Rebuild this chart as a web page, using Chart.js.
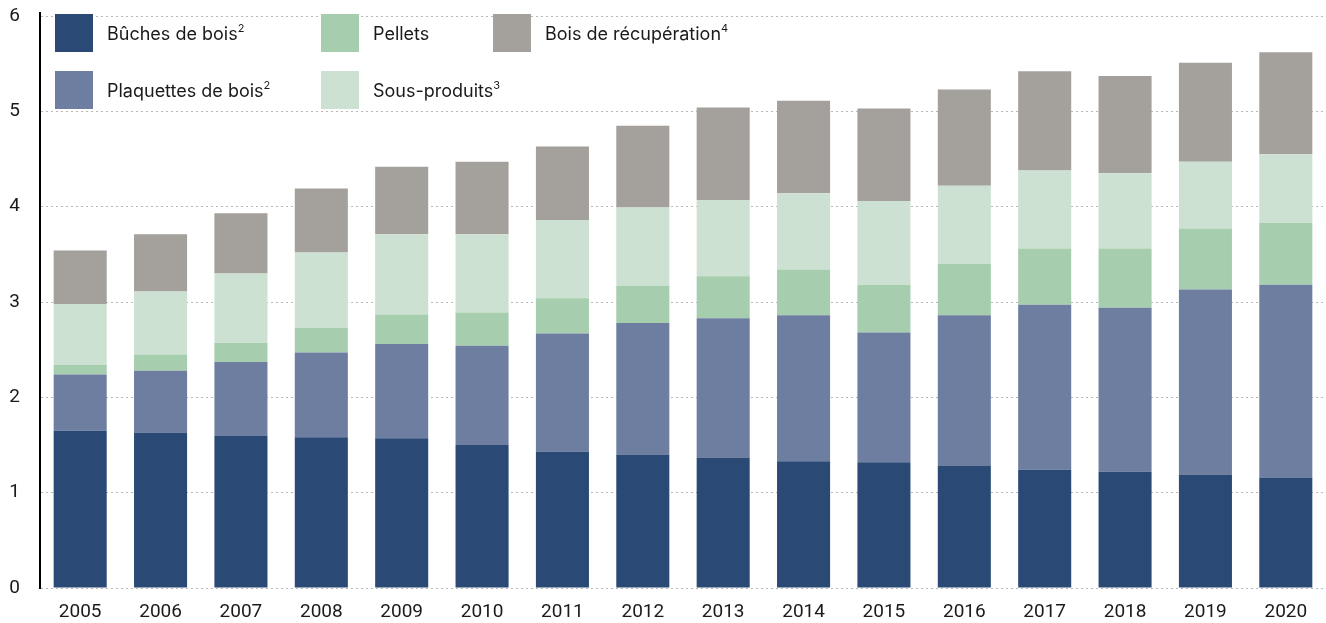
<!DOCTYPE html>
<html lang="fr">
<head>
<meta charset="utf-8">
<script src="https://cdn.jsdelivr.net/npm/chart.js@4/dist/chart.umd.min.js"></script>
<style>
  html, body { margin: 0; padding: 0; background: #fff; }
  #wrap { position: relative; width: 1326px; height: 623px; overflow: hidden; }
  canvas { display: block; }
  .legend { position: absolute; left: 0; top: 0; font-family: Inter, Roboto, "DejaVu Sans", sans-serif; font-size: 18px; color: #1a1a1a; }
  .item { position: absolute; display: flex; align-items: center; white-space: nowrap; }
  .sw { width: 38px; height: 38px; margin-right: 14px; flex: none; }
  .item sup { font-size: 11px; position: relative; top: -1px; }
</style>
</head>
<body>
<div id="wrap">
  <canvas id="c" width="1326" height="623"></canvas>
  <div class="legend" id="legend"></div>
</div>
<script>
// Years on the category axis
const years = ['2005','2006','2007','2008','2009','2010','2011','2012','2013','2014','2015','2016','2017','2018','2019','2020'];

// Stacked series, bottom to top
const buches     = [1.65,1.63,1.60,1.58,1.57,1.50,1.43,1.40,1.37,1.33,1.32,1.28,1.24,1.22,1.19,1.16];
const plaquettes = [0.59,0.65,0.77,0.89,0.99,1.04,1.24,1.38,1.46,1.53,1.36,1.58,1.73,1.72,1.94,2.02];
const pellets    = [0.10,0.17,0.20,0.26,0.31,0.35,0.37,0.39,0.44,0.48,0.50,0.54,0.59,0.62,0.64,0.65];
const sousProd   = [0.64,0.66,0.73,0.79,0.84,0.82,0.82,0.82,0.80,0.80,0.88,0.82,0.82,0.79,0.70,0.72];
const recup      = [0.56,0.60,0.63,0.67,0.71,0.76,0.77,0.86,0.97,0.97,0.97,1.01,1.04,1.02,1.04,1.07];

const yTicks = [0,1,2,3,4,5,6];

const series = [
  { label: 'Bûches de bois', sup: '2', data: buches,     color: '#2a4a75' },
  { label: 'Plaquettes de bois', sup: '2', data: plaquettes, color: '#6d7ea1' },
  { label: 'Pellets', sup: '', data: pellets,    color: '#a6cdae' },
  { label: 'Sous-produits', sup: '3', data: sousProd,   color: '#cce1d1' },
  { label: 'Bois de récupération', sup: '4', data: recup, color: '#a4a09b' }
];

// Legend laid out in columns over the plot area
const legendSlots = [
  { i: 0, x: 55,  y: 14 },
  { i: 1, x: 55,  y: 71 },
  { i: 2, x: 321, y: 14 },
  { i: 3, x: 321, y: 71 },
  { i: 4, x: 493, y: 14 }
];
const legendEl = document.getElementById('legend');
legendSlots.forEach(s => {
  const d = series[s.i];
  const el = document.createElement('div');
  el.className = 'item';
  el.style.left = s.x + 'px';
  el.style.top = s.y + 'px';
  el.innerHTML = '<span class="sw" style="background:' + d.color + '"></span><span>' + d.label +
    (d.sup ? '<sup>' + d.sup + '</sup>' : '') + '</span>';
  legendEl.appendChild(el);
});

const font = { family: 'Roboto, "DejaVu Sans", sans-serif', size: 19 };

new Chart(document.getElementById('c'), {
  type: 'bar',
  data: {
    labels: years,
    datasets: series.map(s => ({
      label: s.label,
      data: s.data,
      backgroundColor: s.color,
      borderWidth: 0,
      categoryPercentage: 1,
      barPercentage: 0.66
    }))
  },
  options: {
    responsive: false,
    animation: false,
    layout: { padding: { top: 16, right: 0, left: 0, bottom: 0 } },
    plugins: { legend: { display: false }, tooltip: { enabled: false } },
    scales: {
      x: {
        stacked: true,
        grid: { display: false },
        border: { display: false },
        afterFit: axis => { axis.height = 35; },
        ticks: { color: '#1a1a1a', font: font, padding: 5, maxRotation: 0 }
      },
      y: {
        stacked: true,
        min: 0,
        max: 6,
        afterBuildTicks: axis => { axis.ticks = yTicks.map(v => ({ value: v })); },
        afterFit: axis => { axis.width = 40; axis.paddingTop = 0; axis.paddingBottom = 0; },
        grid: { color: '#b8b8b8', lineWidth: 1, drawTicks: false },
        border: { display: true, color: '#000', width: 2, dash: [2, 3] },
        ticks: { color: '#1a1a1a', font: font, padding: 20 }
      }
    }
  },
  plugins: [{
    id: 'solidAxis',
    // border.dash applies to the grid lines; draw the axis line itself solid
    afterDraw(chart) {
      const y = chart.scales.y, ctx = chart.ctx;
      ctx.save();
      ctx.strokeStyle = '#000';
      ctx.lineWidth = 2;
      ctx.beginPath();
      ctx.moveTo(y.right, chart.chartArea.top - 4);
      ctx.lineTo(y.right, chart.chartArea.bottom);
      ctx.stroke();
      ctx.restore();
    }
  }]
});
</script>
</body>
</html>
